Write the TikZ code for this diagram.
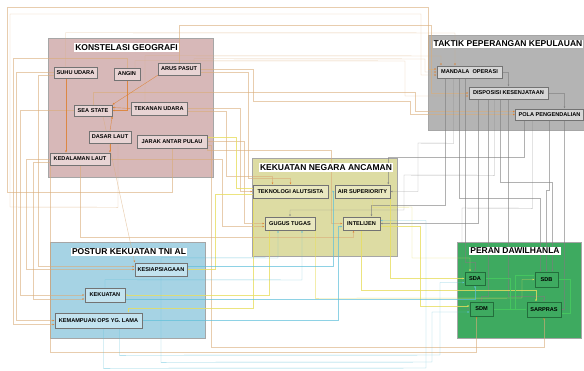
\documentclass[tikz,border=0pt]{standalone}
\usepackage{fontspec}
\setmainfont{Liberation Sans}
\usetikzlibrary{arrows.meta,calc}
\pgfdeclarelayer{bg}
\pgfdeclarelayer{wires}
\pgfsetlayers{bg,wires,main}
\definecolor{geoC}{RGB}{215,184,184}
\definecolor{geoN}{RGB}{232,212,212}
\definecolor{takC}{RGB}{180,180,180}
\definecolor{takN}{RGB}{214,214,214}
\definecolor{ancC}{RGB}{221,220,163}
\definecolor{ancN}{RGB}{233,232,192}
\definecolor{posC}{RGB}{166,211,228}
\definecolor{posN}{RGB}{195,227,239}
\definecolor{perC}{RGB}{62,170,96}
\definecolor{perB}{RGB}{35,110,60}
\definecolor{tanL}{RGB}{218,172,120}
\definecolor{grayL}{RGB}{125,125,125}
\definecolor{yelL}{RGB}{232,222,95}
\definecolor{cyL}{RGB}{95,192,218}
\definecolor{grL}{RGB}{70,200,95}
\definecolor{orgL}{RGB}{222,128,48}
\begin{document}
\begin{tikzpicture}[x=1pt,y=-1pt,
  grp/.style={draw=black!35,line width=.6pt,inner sep=0pt},
  ttl/.style={fill=white,inner sep=1pt,font=\bfseries\fontsize{8.5}{9}\selectfont},
  nbox/.style={draw=black!55,line width=.55pt,inner sep=.5pt,font=\bfseries\fontsize{5.6}{6.5}\selectfont},
  wirebase/.style={line width=.45pt,-{Latex[length=2.2pt,width=2pt]}},
  tanw/.style={line width=.45pt,-{Latex[length=2.2pt,width=2pt,color=orgL]},draw=tanL,draw opacity=.6},
  gryw/.style={wirebase,draw=grayL,draw opacity=.6},
  yelw/.style={wirebase,draw=yelL,draw opacity=.8},
  cyw/.style={wirebase,draw=cyL,draw opacity=.7},
  grnw/.style={wirebase,draw=grL,draw opacity=.9},
  orgw/.style={wirebase,draw=orgL,line width=.4pt,draw opacity=.85}]
\useasboundingbox (0,0) rectangle (584,370);
\begin{pgfonlayer}{bg}
\fill[white] (0,0) rectangle (584,370);
\node[grp,fill=geoC,minimum width=165pt,minimum height=139pt] (geo) at (130.5,107.5) {};
\node[grp,fill=takC,minimum width=156pt,minimum height=95pt] (tak) at (506,82.5) {};
\node[grp,fill=ancC,minimum width=145pt,minimum height=98pt] (anc) at (324.5,207) {};
\node[grp,fill=posC,minimum width=155pt,minimum height=96pt] (pos) at (127.5,290) {};
\node[grp,fill=perC,minimum width=124pt,minimum height=96pt] (per) at (519,290) {};
\end{pgfonlayer}
% titles
\node[ttl] (tgeo) at (126.5,47.5) {KONSTELASI GEOGRAFI};
\node[ttl] (ttak) at (508,44) {TAKTIK PEPERANGAN KEPULAUAN};
\node[ttl] (tanc) at (326,167.5) {KEKUATAN NEGARA ANCAMAN};
\node[ttl] (tpos) at (129,252) {POSTUR KEKUATAN TNI AL};
\node[ttl] (tper) at (515,251) {PERAN DAWILHANLA};
% geo nodes
\node[nbox,fill=geoN,minimum width=43pt,minimum height=11pt] (suhu) at (75.5,72.5) {SUHU UDARA};
\node[nbox,fill=geoN,minimum width=26pt,minimum height=12pt] (angin) at (127,74) {ANGIN};
\node[nbox,fill=geoN,minimum width=42pt,minimum height=12pt] (arus) at (179,69) {ARUS PASUT};
\node[nbox,fill=geoN,minimum width=38pt,minimum height=11pt] (sea) at (93,110.5) {SEA STATE};
\node[nbox,fill=geoN,minimum width=56pt,minimum height=13pt] (tekanan) at (159,108.5) {TEKANAN UDARA};
\node[nbox,fill=geoN,minimum width=42pt,minimum height=12pt] (dasar) at (110,137) {DASAR LAUT};
\node[nbox,fill=geoN,minimum width=70pt,minimum height=13pt] (jarak) at (172,141.5) {JARAK ANTAR PULAU};
\node[nbox,fill=geoN,minimum width=60pt,minimum height=12pt] (kedalaman) at (80,159) {KEDALAMAN LAUT};
% taktik nodes
\node[nbox,fill=takN,minimum width=65pt,minimum height=12pt] (mandala) at (469.5,72) {MANDALA\ \ OPERASI};
\node[nbox,fill=takN,minimum width=79pt,minimum height=12pt] (disposisi) at (508.5,93) {DISPOSISI KESENJATAAN};
\node[nbox,fill=takN,minimum width=68pt,minimum height=11pt] (pola) at (549.5,114.5) {POLA PENGENDALIAN};
% ancaman nodes
\node[nbox,fill=ancN,minimum width=75pt,minimum height=13pt] (tekno) at (290.5,191.5) {TEKNOLOGI ALUTSISTA};
\node[nbox,fill=ancN,minimum width=55pt,minimum height=13pt] (air) at (362.5,191.5) {AIR SUPERIORITY};
\node[nbox,fill=ancN,minimum width=50pt,minimum height=13pt] (gugus) at (290,223.5) {GUGUS TUGAS};
\node[nbox,fill=ancN,minimum width=37pt,minimum height=13pt] (intel) at (361.5,223.5) {INTELIJEN};
% postur nodes
\node[nbox,fill=posN,minimum width=52pt,minimum height=13pt] (kesiap) at (161,269.5) {KESIAPSIAGAAN};
\node[nbox,fill=posN,minimum width=40pt,minimum height=14pt] (kekuatan) at (105,295) {KEKUATAN};
\node[nbox,fill=posN,minimum width=87pt,minimum height=15pt] (kemampuan) at (98.5,320.5) {KEMAMPUAN OPS YG. LAMA};
% peran nodes
\node[nbox,fill=perC,draw=perB,minimum width=20pt,minimum height=13pt] (sda) at (475,278.5) {SDA};
\node[nbox,fill=perC,draw=perB,minimum width=23pt,minimum height=15pt] (sdb) at (546.5,279.5) {SDB};
\node[nbox,fill=perC,draw=perB,minimum width=23pt,minimum height=14pt] (sdm) at (481.5,309) {SDM};
\node[nbox,fill=perC,draw=perB,minimum width=34pt,minimum height=15pt] (sarpras) at (544,309.5) {SARPRAS};
\begin{pgfonlayer}{wires}
% tan wires from KONSTELASI GEOGRAFI
\draw[tanw] (suhu.west) -- (suhu.west -| 16,0) |- (kemampuan.west);
\draw[tanw] (sea.west) -- (sea.west -| 20,0) |- (kekuatan.west);
\draw[tanw] (kedalaman.west) -- (kedalaman.west -| 26,0) |- (kesiap.west);
\draw[tanw] (angin.north) -- (angin.north |- 0,58) -- (13,58) |- ($(kemampuan.west)+(0,4)$);
\draw[tanw] (jarak.south) -- (jarak.south |- 0,192) -- (7,192) -- (7,7) -- (428,7) |- ($(mandala.west)+(0,-3)$);
\draw[tanw] ($(dasar.south)+(8,0)$) -- ++(0,64) -- (10,207) -- (10,14) -- (421,14) |- ($(mandala.west)+(0,3)$);
\draw[tanw] (arus.north) -- (arus.north |- 0,25) -- (431,25) |- (disposisi.west);
\draw[tanw] ($(suhu.north)+(-10,0)$) -- ++(0,-34) -- (455,33) -- (455,0 |- mandala.north);
\draw[tanw] ($(tekanan.north)+(-14,0)$) -- ++(0,-46) -- (441,56) -- (441,0 |- mandala.north);
\draw[tanw] (arus.east) -- (arus.east -| 253,0) -- (253,101) -- (410,101) |- (pola.west);
\draw[tanw] (tekanan.east) -- (tekanan.east -| 240,0) |- (tekno.west);
\draw[tanw] (jarak.east) -- (jarak.east -| 244,0) |- (gugus.west);
\draw[tanw] (jarak.south east) -- (jarak.south east |- 0,150) -- (331,150) |- (intel.west);
\draw[tanw] ($(angin.north)+(8,0)$) -- ++(0,-7) -- (405,61) |- ($(disposisi.west)+(0,3)$);
\draw[tanw] ($(tekanan.east)+(0,3)$) -- ++(39,0) -- ++(0,65) -| ($(tekno.north)+(-18,0)$);
\draw[tanw] ($(arus.east)+(0,3)$) -- ++(48,0) -- ++(0,106) -| (tekno.north);
\draw[tanw] (sea.north) -- (sea.north |- 0,92) -- (415,92) |- ($(pola.west)+(0,-3)$);
\draw[tanw] ($(arus.north)+(15,0)$) -- ++(0,-4) -- (425,59) |- (mandala.west);
\draw[tanw] (kedalaman.east) -- (kedalaman.east -| 222,0) |- ($(gugus.west)+(0,3)$);
\draw[tanw] (kedalaman.south) -- (kedalaman.south |- 0,237) -| ($(intel.south)+(-8,0)$);
\draw[tanw] ($(kedalaman.west)+(0,3)$) -- ++(-17,0) |- ($(kekuatan.west)+(0,4)$);
\draw[tanw] ($(suhu.west)+(0,3)$) -- ++(-16,0) |- ($(kesiap.west)+(0,-3)$);
\draw[tanw] (kedalaman.south west) -- (kedalaman.south west |- 0,352) -| ($(sdm.south)+(-5,0)$);
\draw[tanw] ($(jarak.east)+(0,4)$) -- ++(4,0) -- ++(0,202) -| (sarpras.south);
\draw[tanw] ($(sea.south)+(10,0)$) -- (kesiap.north west);
% internal geo
\draw[orgw] (angin.south) |- (sea.east);
\draw[orgw] (tekanan.west) -- ($(sea.east)+(0,-3)$);
\draw[orgw] (arus.south west) -- (sea.north east);
\draw[orgw] (dasar.north) -- (sea.south east);
\draw[orgw] ($(suhu.south)+(-9.5,0)$) -- ($(kedalaman.north)+(-14,0)$);
\draw[orgw] (dasar.south) -- (dasar.south |- kedalaman.north);
% gray wires from TAKTIK
\draw[gryw] ($(mandala.south)+(-16,0)$) -- ++(0,65) -- (418,143) |- (air.east);
\draw[gryw] ($(mandala.south)+(-4,0)$) -- ++(0,184) -| (sda.north);
\draw[gryw] ($(mandala.south)+(-10,0)$) -- ++(0,120) -| ($(sdb.north)+(-6,0)$);
\draw[gryw] ($(mandala.south)+(-24,0)$) -- ++(0,127) -| ($(intel.north)+(10,0)$);
\draw[gryw] ($(disposisi.south)+(-20,0)$) -- ++(0,197) -| (sdm.north);
\draw[gryw] (disposisi.south) -- ++(0,197) -| (sarpras.north);
\draw[gryw] ($(disposisi.south)+(-8,0)$) -- ++(0,83) -| ($(sdb.north)+(6,0)$);
\draw[gryw] ($(disposisi.south)+(-30,0)$) |- (intel.east);
\draw[gryw] ($(disposisi.south)+(-14,0)$) -- ++(0,76) -- (404,175) -- (404,210) -| (gugus.north);
\draw[gryw] ($(pola.south)+(-17,0)$) -- ++(0,88) -- (462,208) |- (sdm.west);
\draw[gryw] (pola.south) -- ++(0,70) -| (sdb.north);
\draw[gryw] ($(pola.south)+(15,0)$) |- (sarpras.east);
\draw[gryw] ($(pola.south)+(-25,0)$) -- ++(0,37) -| ($(air.north east)+(-2,0)$);
\draw[gryw] (mandala.east) -| (disposisi.north);
\draw[gryw] (disposisi.east) -| ($(pola.north)+(15,0)$);
% yellow wires from ANCAMAN
\draw[yelw] (air.south east) |- (sda.west);
\draw[yelw] ($(intel.east)+(0,3)$) -- ++(40,0) |- ($(sdm.west)+(0,-3)$);
\draw[yelw] (intel.south) -- ++(0,60) -| ($(sarpras.north)+(-8,0)$);
\draw[yelw] (gugus.south east) -- ++(0,68) -- (522,298) |- (sdb.west);
\draw[yelw] ($(tekno.west)+(0,3)$) -- ++(-38,0) |- (kesiap.east);
\draw[yelw] ($(gugus.south west)+(4,0)$) |- (kekuatan.east);
\draw[yelw] (tekno.south west) -- ++(0,110) -| ($(kemampuan.north)+(30,0)$);
\draw[yelw] ($(tekno.west)+(0,-3)$) -- ++(-17,0) |- ($(jarak.east)+(0,-4)$);
\draw[yelw] ($(air.south)+(10,0)$) -- ++(0,9) -- (412,207) -- (412,258) -| ($(sda.north)+(-5,0)$);
% cyan wires from POSTUR
\draw[cyw] ($(kemampuan.south)+(5,0)$) -- ++(0,40) -- (426,368) |- ($(intel.east)+(0,-3)$);
\draw[cyw] ($(kemampuan.south)+(21,0)$) -- ++(0,27) -- (440,355) |- ($(sda.west)+(0,4)$);
\draw[cyw] (kesiap.south) -- ++(0,86) -- (432,362) |- ($(sdm.west)+(0,3)$);
\draw[cyw] (kesiap.north) -- ++(0,-5) -- (278,258) -- (278,0 |- gugus.south);
\draw[cyw] (kekuatan.north) -- ++(0,-8) -- (302,280) -- (302,0 |- gugus.south);
\draw[cyw] ($(kesiap.east)+(0,-3)$) -- ++(146,0) |- (air.west);
\draw[cyw] (kemampuan.east) -- ++(196,0) |- ($(intel.west)+(0,3)$);
\draw[cyw] ($(kekuatan.east)+(0,4)$) -| (sda.south);
% green wires from PERAN
\draw[grnw] (sda.east) -- ++(25,0) |- (sarpras.west);
\draw[grnw] (sdm.east) -- ++(22,0) |- ($(sdb.west)+(0,-4)$);
\draw[grnw] (sdb.east) -- ++(12,0) |- ($(sarpras.east)+(0,4)$);
\end{pgfonlayer}
\end{tikzpicture}
\end{document}
